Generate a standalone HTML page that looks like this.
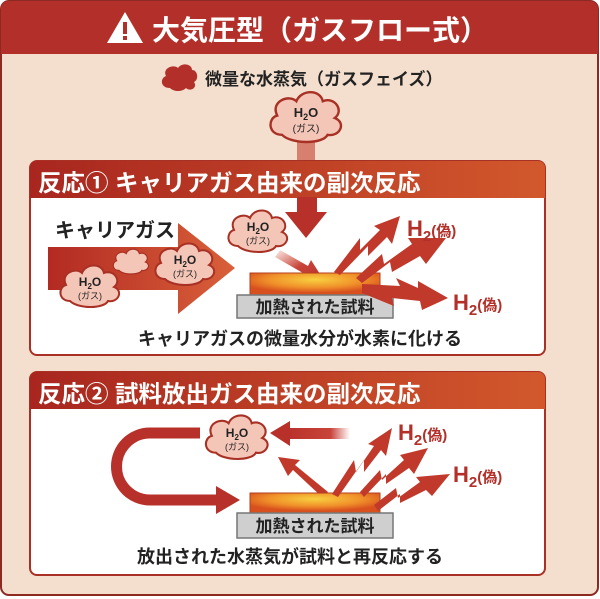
<!DOCTYPE html>
<html><head><meta charset="utf-8"><style>
html,body{margin:0;padding:0;background:#fff}
svg{display:block}
text{font-family:"Liberation Sans","Noto Sans CJK JP",sans-serif}
</style></head><body>
<svg width="600" height="599" viewBox="0 0 600 599" xmlns="http://www.w3.org/2000/svg">
<defs>
<linearGradient id="hdr" x1="0" x2="1"><stop offset="0" stop-color="#a8261f"/><stop offset="1" stop-color="#d2582c"/></linearGradient>
<linearGradient id="big" x1="0" x2="1"><stop offset="0" stop-color="#b32a22"/><stop offset="1" stop-color="#d9603a"/></linearGradient>
<radialGradient id="hot" cx="0.5" cy="0.3" r="0.6"><stop offset="0" stop-color="#f8d040"/><stop offset="0.6" stop-color="#f0902a"/><stop offset="1" stop-color="#d8501e"/></radialGradient>
<linearGradient id="fadeL" x1="0" x2="1"><stop offset="0" stop-color="#b8302a"/><stop offset="0.7" stop-color="#c8443a"/><stop offset="1" stop-color="#c8443a" stop-opacity="0"/></linearGradient>
<linearGradient id="diag" x1="0" y1="0" x2="1" y2="1"><stop offset="0" stop-color="#d0503a" stop-opacity="0.1"/><stop offset="0.5" stop-color="#c8443a"/><stop offset="1" stop-color="#b8302a"/></linearGradient>
<g id="cloud">
<path d="M-20,14 C-32,14 -32,0 -24,-2 C-30,-14 -14,-20 -8,-14 C-4,-24 12,-24 14,-14 C24,-18 32,-6 24,0 C34,4 28,16 18,14 C14,22 -12,22 -20,14 Z" fill="#f4c6b8" stroke="#a83024" stroke-width="2"/>
</g>
</defs>
<rect x="1" y="1" width="597" height="594" rx="8" fill="#f4dfce" stroke="#8c2a22" stroke-width="2"/>
<path d="M1,9 a8,8 0 0 1 8,-8 h581 a8,8 0 0 1 8,8 v45 h-597 z" fill="#b3302a"/>
<polygon points="125,12 143,43 107,43" fill="#fff"/>
<rect x="123" y="22" width="4" height="12" fill="#b3302a"/><rect x="123" y="36" width="4" height="4" fill="#b3302a"/>
<text x="152" y="40" font-size="28" font-weight="bold" fill="#fff">大気圧型（ガスフロー式）</text>
<path d="M170,88 C160,88 160,78 166,76 C162,68 174,64 178,68 C182,62 192,64 192,70 C198,70 199,80 194,82 C198,88 190,92 186,88 C182,92 174,92 170,88 Z" fill="#b3302a"/>
<text x="205" y="85" font-size="17" font-weight="bold" fill="#222">微量な水蒸気（ガスフェイズ）</text>
<rect x="297" y="138" width="18" height="26" fill="#d88070"/>
<g transform="translate(306,118) scale(1.2)"><use href="#cloud"/></g>
<text x="306" y="117" font-size="13" font-weight="bold" text-anchor="middle" fill="#222">H<tspan font-size="9" dy="3">2</tspan><tspan dy="-3">O</tspan></text>
<text x="306" y="132" font-size="10" text-anchor="middle" fill="#222">(ガス)</text>

<rect x="30" y="161" width="515" height="194" rx="7" fill="#fff" stroke="#a83024" stroke-width="2"/>
<path d="M30,168 a7,7 0 0 1 7,-7 h501 a7,7 0 0 1 7,7 v30 h-515 z" fill="url(#hdr)"/>
<text x="38" y="191" font-size="23.5" font-weight="bold" fill="#fff">反応①  キャリアガス由来の副次反応</text>
<text x="55" y="237" font-size="20" font-weight="bold" fill="#222">キャリアガス</text>
<polygon points="48,247 178,247 178,223 235,268 178,314 178,290 48,290" fill="url(#big)"/>
<g transform="translate(90,287)"><use href="#cloud"/></g>
<text x="90" y="286" font-size="12" font-weight="bold" text-anchor="middle" fill="#222">H<tspan font-size="8" dy="3">2</tspan><tspan dy="-3">O</tspan></text>
<text x="90" y="299" font-size="9" text-anchor="middle" fill="#222">(ガス)</text>
<g transform="translate(131,262) scale(0.6)"><use href="#cloud"/></g>
<g transform="translate(185,265)"><use href="#cloud"/></g>
<text x="185" y="264" font-size="12" font-weight="bold" text-anchor="middle" fill="#222">H<tspan font-size="8" dy="3">2</tspan><tspan dy="-3">O</tspan></text>
<text x="185" y="277" font-size="9" text-anchor="middle" fill="#222">(ガス)</text>
<g transform="translate(258,232)"><use href="#cloud"/></g>
<text x="258" y="231" font-size="12" font-weight="bold" text-anchor="middle" fill="#222">H<tspan font-size="8" dy="3">2</tspan><tspan dy="-3">O</tspan></text>
<text x="258" y="244" font-size="9" text-anchor="middle" fill="#222">(ガス)</text>
<polygon points="297,197 317,197 317,212 327,212 306,238 285,212 297,212" fill="#b8302a"/>
<polygon points="280,250 308,266 311,260 325,282 299,280 303,273 275,257" fill="url(#diag)"/>
<rect x="250" y="273" width="130" height="22" fill="url(#hot)" stroke="#b34020" stroke-width="1"/>
<rect x="237" y="295" width="156" height="23" fill="#cfcfcf" stroke="#777" stroke-width="1.5"/>
<text x="315" y="313" font-size="17" font-weight="bold" text-anchor="middle" fill="#222">加熱された試料</text>
<polygon points="334,272 360,238 360,250 380,230 374,226 400,216 392,244 387,237 368,256 368,246 340,275" fill="#c0392b"/>
<polygon points="356,278 382,254 384,264 412,244 408,238 446,238 426,264 420,256 392,272 390,262 362,283" fill="#c0392b"/>
<polygon points="362,284 400,286 396,278 418,288 418,281 448,298 422,310 420,301 392,298 394,306 362,293" fill="#c0392b"/>
<text x="407" y="236" font-size="22" font-weight="bold" fill="#b3302a">H<tspan font-size="15" dy="5">2</tspan><tspan font-size="15" dy="-5">(偽)</tspan></text>
<text x="453" y="310" font-size="22" font-weight="bold" fill="#b3302a">H<tspan font-size="15" dy="5">2</tspan><tspan font-size="15" dy="-5">(偽)</tspan></text>
<text x="300" y="345" font-size="18" font-weight="bold" text-anchor="middle" fill="#222">キャリアガスの微量水分が水素に化ける</text>

<rect x="30" y="372" width="515" height="203" rx="7" fill="#fff" stroke="#a83024" stroke-width="2"/>
<path d="M30,379 a7,7 0 0 1 7,-7 h501 a7,7 0 0 1 7,7 v30 h-515 z" fill="url(#hdr)"/>
<text x="38" y="402" font-size="23.5" font-weight="bold" fill="#fff">反応②  試料放出ガス由来の副次反応</text>
<path d="M200,433 H150 A33,33 0 0 0 150,500 H218" fill="none" stroke="#b8302a" stroke-width="11"/>
<polygon points="216,486 240,500 216,514" fill="#b8302a"/>
<rect x="285" y="428" width="65" height="11" fill="url(#fadeL)"/>
<polygon points="270,433 290,421 290,446" fill="#b8302a"/>
<g transform="translate(237,438) scale(1.05)"><use href="#cloud"/></g>
<text x="237" y="437" font-size="12" font-weight="bold" text-anchor="middle" fill="#222">H<tspan font-size="8" dy="3">2</tspan><tspan dy="-3">O</tspan></text>
<text x="237" y="450" font-size="9" text-anchor="middle" fill="#222">(ガス)</text>
<polygon points="322,497 293,470 288,476 278,457 300,460 295,465 328,492" fill="#c0392b"/>
<rect x="250" y="493" width="130" height="20" fill="url(#hot)" stroke="#b34020" stroke-width="1"/>
<rect x="237" y="513" width="156" height="25" fill="#cfcfcf" stroke="#777" stroke-width="1.5"/>
<text x="315" y="532" font-size="17" font-weight="bold" text-anchor="middle" fill="#222">加熱された試料</text>
<polygon points="332,494 354,460 356,472 374,446 368,444 392,428 386,456 381,450 364,472 364,460 338,497" fill="#c0392b"/>
<polygon points="360,492 380,470 382,480 404,460 400,455 428,448 414,474 409,468 386,484 386,474 364,497" fill="#c0392b"/>
<polygon points="374,505 396,488 398,498 420,482 416,477 450,474 432,496 426,490 400,503 400,494 378,511" fill="#c0392b"/>
<text x="398" y="440" font-size="22" font-weight="bold" fill="#b3302a">H<tspan font-size="15" dy="5">2</tspan><tspan font-size="15" dy="-5">(偽)</tspan></text>
<text x="453" y="482" font-size="22" font-weight="bold" fill="#b3302a">H<tspan font-size="15" dy="5">2</tspan><tspan font-size="15" dy="-5">(偽)</tspan></text>
<text x="290" y="563" font-size="18" font-weight="bold" text-anchor="middle" fill="#222">放出された水蒸気が試料と再反応する</text>
</svg>
</body></html>
